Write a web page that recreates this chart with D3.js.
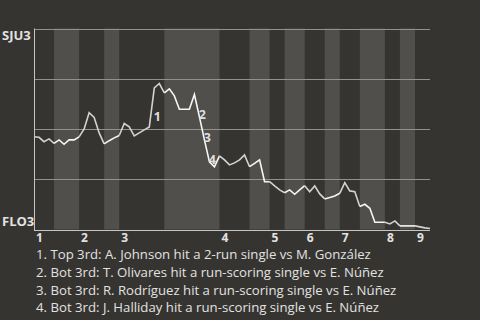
<!DOCTYPE html>
<html>
<head>
<meta charset="utf-8">
<script src="https://cdn.jsdelivr.net/npm/d3@7/dist/d3.min.js"></script>
<style>
  html, body { margin: 0; padding: 0; background: #363430; }
  svg { display: block; }
  text { font-family: "Open Sans", "Noto Sans", sans-serif; fill: #e2e2e2; }
</style>
</head>
<body>
<div id="chart"></div>
<script>
// Win probability by play (SJU side), one value per play, first is pre-game
const winProb = [
  0.459, 0.456, 0.434, 0.448, 0.426, 0.443, 0.421, 0.443, 0.443, 0.458,
  0.498, 0.579, 0.555, 0.478, 0.423, 0.439, 0.453, 0.465, 0.525, 0.508,
  0.463, 0.478, 0.493, 0.508, 0.703, 0.725, 0.678, 0.698, 0.663, 0.596,
  0.596, 0.596, 0.670, 0.558, 0.443, 0.333, 0.308, 0.363, 0.343, 0.318,
  0.328, 0.343, 0.368, 0.309, 0.326, 0.343, 0.234, 0.234, 0.213, 0.193,
  0.179, 0.193, 0.171, 0.193, 0.214, 0.184, 0.213, 0.173, 0.148, 0.155,
  0.163, 0.176, 0.229, 0.188, 0.184, 0.110, 0.121, 0.101, 0.031, 0.031,
  0.031, 0.023, 0.038, 0.013, 0.013, 0.013, 0.013, 0.008, 0.003, 0.000
];

// Number of plays in each half inning (top 1, bot 1, top 2, ...)
const halfPlays = [4, 5, 5, 3, 9, 11, 6, 4, 3, 4, 4, 3, 4, 5, 3, 3, 3];
const inningLabels = ['1', '2', '3', '4', '5', '6', '7', '8', '9'];

const teamTop = 'SJU3';
const teamBottom = 'FLO3';

// Key plays: play index and description
const eventIndex = [24, 33, 34, 35];
const eventText = [
  'Top 3rd: A. Johnson hit a 2-run single vs M. González',
  'Bot 3rd: T. Olivares hit a run-scoring single vs E. Núñez',
  'Bot 3rd: R. Rodríguez hit a run-scoring single vs E. Núñez',
  'Bot 3rd: J. Halliday hit a run-scoring single vs E. Núñez'
];

const width = 480, height = 320;
const svg = d3.select('#chart').append('svg')
  .attr('width', width)
  .attr('height', height);

const x = d3.scaleLinear()
  .domain([0, winProb.length - 1])
  .range([34, 430]);

const y = d3.scaleLinear()
  .domain([0, 1])
  .range([228.5, 28.5]);

// half-inning start/end indexes
const halves = [];
let start = 0;
halfPlays.forEach((n, i) => {
  halves.push({ start: start, end: start + n, bottom: i % 2 === 1 });
  start += n;
});

// shaded bands for bottom halves
svg.append('g')
  .selectAll('rect')
  .data(halves.filter(h => h.bottom))
  .enter().append('rect')
  .attr('x', d => x(d.start))
  .attr('y', y(1))
  .attr('width', d => x(d.end) - x(d.start))
  .attr('height', y(0) - y(1) + 1)
  .attr('fill', '#504f4c');

// grid lines
svg.append('g')
  .selectAll('line')
  .data([0.25, 0.5, 0.75, 1])
  .enter().append('line')
  .attr('x1', x(0))
  .attr('x2', x.range()[1])
  .attr('y1', d => Math.round(y(d)) + 0.5)
  .attr('y2', d => Math.round(y(d)) + 0.5)
  .attr('stroke', '#92918e')
  .attr('stroke-width', 1);

// axes lines
svg.append('line')
  .attr('x1', x(0) + 0.5).attr('x2', x(0) + 0.5)
  .attr('y1', y(1)).attr('y2', y(0) + 1.5)
  .attr('stroke', '#c4c4c2');
svg.append('line')
  .attr('x1', x(0)).attr('x2', x.range()[1])
  .attr('y1', Math.round(y(0)) + 1.5).attr('y2', Math.round(y(0)) + 1.5)
  .attr('stroke', '#c4c4c2');

// win probability line, per half inning
const line = d3.line()
  .x(i => x(i))
  .y(i => y(winProb[i]));

svg.append('g')
  .selectAll('path')
  .data(halves)
  .enter().append('path')
  .attr('d', h => line(d3.range(h.start, h.end + 1)))
  .attr('fill', 'none')
  .attr('stroke', h => h.bottom ? '#f6f6f6' : '#d2d2d2')
  .attr('stroke-width', 1.6)
  .attr('stroke-linejoin', 'miter');

// event markers
svg.append('g')
  .selectAll('text')
  .data(eventIndex)
  .enter().append('text')
  .attr('x', d => x(d) + 3)
  .attr('y', d => (y(winProb[d - 1]) + y(winProb[d])) / 2 + 9)
  .attr('text-anchor', 'middle')
  .attr('dominant-baseline', 'central')
  .attr('font-size', 12.5)
  .attr('font-weight', 'bold')
  .style('fill', '#dedede')
  .text((d, i) => i + 1);

// team labels
svg.append('text')
  .attr('x', 2).attr('y', 40)
  .attr('font-size', 13).attr('font-weight', 'bold')
  .text(teamTop);
svg.append('text')
  .attr('x', 2).attr('y', 226)
  .attr('font-size', 13).attr('font-weight', 'bold')
  .text(teamBottom);

// inning labels at start of each top half
svg.append('g')
  .selectAll('text')
  .data(inningLabels)
  .enter().append('text')
  .attr('x', (d, i) => x(halves[i * 2].start) + 2)
  .attr('y', 242)
  .attr('font-size', 12)
  .attr('font-weight', 'bold')
  .text(d => d);

// event descriptions
svg.append('g')
  .selectAll('text')
  .data(eventText)
  .enter().append('text')
  .attr('x', 36)
  .attr('y', (d, i) => 259 + i * 17.8)
  .attr('font-size', 13.2)
  .text((d, i) => (i + 1) + '. ' + d);
</script>
</body>
</html>
